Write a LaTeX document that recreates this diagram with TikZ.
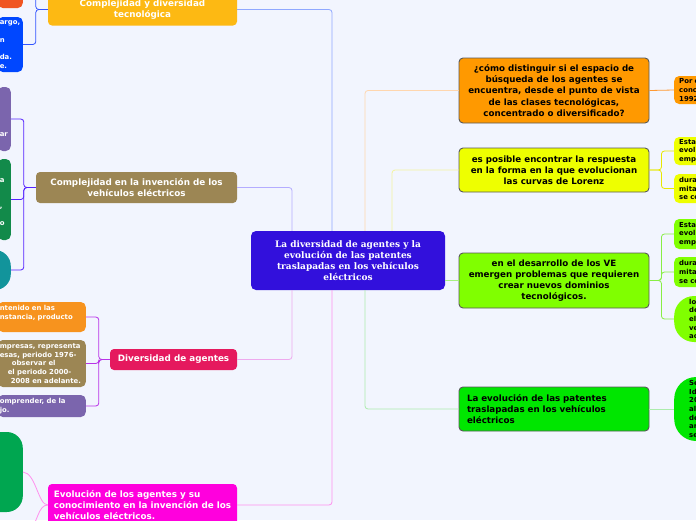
\documentclass[tikz,border=0pt]{standalone}
\usepackage{fontspec}
\setmainfont{DejaVu Sans}
\newfontfamily\titlefont{DejaVu Serif}

\definecolor{bgpage}{HTML}{F2F5FE}
\definecolor{centralcol}{HTML}{3210DC}
\definecolor{ambercol}{HTML}{FDB913}
\definecolor{khakicol}{HTML}{9C8654}
\definecolor{crimsoncol}{HTML}{E5195E}
\definecolor{magentacol}{HTML}{FF00DD}
\definecolor{orangecol}{HTML}{FF9900}
\definecolor{lemoncol}{HTML}{EEFF00}
\definecolor{limecol}{HTML}{80FF00}
\definecolor{greencol}{HTML}{00E600}
\definecolor{redcol}{HTML}{F05522}
\definecolor{bluecol}{HTML}{0047FF}
\definecolor{violetcol}{HTML}{7B65AD}
\definecolor{forestcol}{HTML}{128A4A}
\definecolor{tealcol}{HTML}{12949B}
\definecolor{leafgreen}{HTML}{00A650}
\definecolor{tangerine}{HTML}{F7931E}
% connector colours
\definecolor{lnkcdt}{HTML}{8FA8FF}
\definecolor{lnkcinv}{HTML}{B4ACFF}
\definecolor{lnkdiv}{HTML}{EEAAEE}
\definecolor{lnkevo}{HTML}{FF90EE}
\definecolor{lnkq1}{HTML}{FFD6AE}
\definecolor{lnkq2}{HTML}{F4F4A0}
\definecolor{lnkq3}{HTML}{A8F080}
\definecolor{lnkq4}{HTML}{ACECAC}
\definecolor{brkblue}{HTML}{3355FF}
\definecolor{brkviolet}{HTML}{5522FF}
\definecolor{brkmagenta}{HTML}{B833E8}
\definecolor{brkorange}{HTML}{FF9933}
\definecolor{brkyellow}{HTML}{E8E800}
\definecolor{brklime}{HTML}{88EE44}

\tikzset{
  topic/.style={fill=#1, rounded corners=4pt, text=white, align=center, inner sep=0pt,
    font=\bfseries\fontsize{8.8}{11}\selectfont},
  ask/.style={fill=#1, draw=black!65, line width=0.9pt, rounded corners=4pt, text=black,
    align=center, inner sep=0pt, font=\bfseries\fontsize{8.7}{11.1}\selectfont},
  leaf/.style={fill=#1, rounded corners=5pt, text=white, align=left, inner xsep=2pt,
    inner ysep=0pt, font=\bfseries\fontsize{6.9}{8.7}\selectfont},
  rleaf/.style={leaf=#1, text=black, anchor=west, inner xsep=4pt, text width=60pt,
    minimum width=70pt},
  link/.style={draw=#1, line width=0.8pt, rounded corners=3pt},
}

\begin{document}
\begin{tikzpicture}[x=1pt,y=-1pt]
  \useasboundingbox (0,0) rectangle (696,520);
  \clip (0,0) rectangle (696,520);
  \fill[bgpage] (0,0) rectangle (696,520);

  % centre
  \node[fill=centralcol, rounded corners=5pt, text=white, align=center, inner sep=0pt,
    minimum width=194pt, minimum height=59pt,
    font=\titlefont\bfseries\fontsize{9}{10.9}\selectfont] (cen) at (348,260.5)
    {La diversidad de agentes y la\\evolución de las patentes\\traslapadas en los vehículos\\eléctricos};

  % left topics
  \node[topic=ambercol, minimum width=189pt, minimum height=32pt] (cdt) at (142.5,9.5)
    {Complejidad y diversidad\\tecnológica};
  \node[topic=khakicol, minimum width=201pt, minimum height=31pt] (cinv) at (136.5,187.5)
    {Complejidad en la invención de los\\vehículos eléctricos};
  \node[topic=crimsoncol, minimum width=127pt, minimum height=21pt] (div) at (173.5,359.5)
    {Diversidad de agentes};
  \node[topic=magentacol, minimum width=189pt, minimum height=42pt, align=left] (evo) at (142.5,505)
    {Evolución de los agentes y su\\conocimiento en la invención de los\\vehículos eléctricos.};

  % right topics
  \node[ask=orangecol, minimum width=190pt, minimum height=65pt] (q1) at (554,90.5)
    {¿cómo distinguir si el espacio de\\búsqueda de los agentes se\\encuentra, desde el punto de vista\\de las clases tecnológicas,\\concentrado o diversificado?};
  \node[ask=lemoncol, minimum width=190pt, minimum height=44pt] (q2) at (554,170)
    {es posible encontrar la respuesta\\en la forma en la que evolucionan\\las curvas de Lorenz};
  \node[ask=limecol, minimum width=190pt, minimum height=55pt] (q3) at (554,280.5)
    {en el desarrollo de los VE\\emergen problemas que requieren\\crear nuevos dominios\\tecnológicos.};
  \node[ask=greencol, minimum width=190pt, minimum height=44pt, align=left,
    text width=174pt] (q4) at (554,409)
    {La evolución de las patentes\\traslapadas en los vehículos\\eléctricos};

  % left leaves
  \node[leaf=redcol, anchor=east, text width=21pt, minimum height=24pt] (red) at (23,-4)
    {\mbox{}\\l.};
  \node[leaf=bluecol, anchor=east, text width=21pt, minimum height=55pt] (blu) at (23,44.5)
    {argo,\\\mbox{}\\n\\\mbox{}\\da.\\e.};
  \node[leaf=violetcol, anchor=east, text width=9pt, minimum height=64pt] (vio) at (11,119)
    {\mbox{}\\\mbox{}\\\mbox{}\\\mbox{}\\ar};
  \node[leaf=forestcol, anchor=east, text width=9pt, minimum height=81pt] (frs) at (11,199.5)
    {\mbox{}\\a\\\mbox{}\\\mbox{}\\,\\\mbox{}\\o};
  \node[leaf=tealcol, anchor=east, rounded corners=16pt, minimum width=50pt,
    minimum height=40pt] (tea) at (11,270) {};
  \node[leaf=tangerine, anchor=east, text width=84pt, minimum height=30pt] (dv1) at (86,317)
    {ntenido en las\\nstancia, producto\\\mbox{}};
  \node[leaf=khakicol, anchor=east, text width=84pt, minimum height=47pt] (dv2) at (86,363.5)
    {mpresas, representa\\esas, periodo 1976-\\\hspace*{12pt}observar el\\\hspace*{8pt}el periodo 2000-\\\hspace*{11pt}2008 en adelante.};
  \node[leaf=violetcol, anchor=east, text width=84pt, minimum height=22pt] (dv3) at (86,406)
    {omprender, de la\\jo.};
  \node[leaf=leafgreen, anchor=east, rounded corners=16pt, minimum width=70pt,
    minimum height=80pt] (lgr) at (23,472) {};
  \coordinate (evonext) at (30,530);

  % right leaves
  \node[rleaf=orangecol, minimum height=28pt] (o1) at (674,90) {Por e\\conc\\1992};
  \node[rleaf=lemoncol, minimum height=28pt] (y1) at (674,151) {Esta\\evol\\empr};
  \node[rleaf=lemoncol, minimum height=29pt] (y2) at (674,188.5) {dura\\mita\\se co};
  \node[rleaf=limecol, minimum height=30pt] (l1) at (674,234) {Esta\\evol\\empr};
  \node[rleaf=limecol, minimum height=30pt] (l2) at (674,272) {dura\\mita\\se co};
  \node[rleaf=limecol, minimum height=46pt, rounded corners=20pt, inner xsep=15pt]
    (l3) at (674,319) {lo\\de\\el\\ve\\ac};
  \node[rleaf=greencol, minimum height=64pt, rounded corners=22pt,
    inner xsep=15pt] (g1) at (674,409) {Se\\Id\\20\\al\\de\\ar\\se};

  % centre connectors
  \draw[link=lnkcdt] ([xshift=-16pt]cen.north) |- (cdt.east);
  \draw[link=lnkcinv] ([xshift=-56pt]cen.north) |- (cinv.east);
  \draw[link=lnkdiv] ([xshift=-56pt]cen.south) |- (div.east);
  \draw[link=lnkevo] ([xshift=-16pt]cen.south) |- (evo.east);
  \draw[link=lnkq1] ([xshift=17pt]cen.north) |- (q1.west);
  \draw[link=lnkq2] ([xshift=44pt]cen.north) |- (q2.west);
  \draw[link=lnkq3] (cen.east |- q3.west) -- (q3.west);
  \draw[link=lnkq4] ([xshift=17pt]cen.south) |- (q4.west);

  % left brackets
  \draw[link=brkblue] (cdt.west) -- ++(-12,0) |- (red.east);
  \draw[link=brkblue] (cdt.west) -- ++(-12,0) |- (blu.east);
  \draw[link=brkviolet] (cinv.west) -- ++(-12,0) |- (vio.east);
  \draw[link=brkviolet] (cinv.west) -- ++(-12,0) |- (frs.east);
  \draw[link=brkviolet] (cinv.west) -- ++(-12,0) |- (tea.east);
  \draw[link=brkmagenta] (div.west) -- ++(-11,0) |- (dv1.east);
  \draw[link=brkmagenta] (div.west) -- ++(-11,0) |- (dv2.east);
  \draw[link=brkmagenta] (div.west) -- ++(-11,0) |- (dv3.east);
  \draw[draw=lnkevo, line width=0.8pt] (evo.west) .. controls (38,505) and (36,473) .. (lgr.east);
  \draw[draw=lnkevo, line width=0.8pt] (evo.west) .. controls (38,505) and (38,522) .. (evonext);

  % right brackets
  \draw[link=brkorange] (q1.east) -- (o1.west);
  \draw[link=brkyellow] (q2.east) -- ++(12,0) |- (y1.west);
  \draw[link=brkyellow] (q2.east) -- ++(12,0) |- (y2.west);
  \draw[link=brklime] (q3.east) -- ++(12,0) |- (l1.west);
  \draw[link=brklime] (q3.east) -- ++(12,0) |- (l2.west);
  \draw[link=brklime] (q3.east) -- ++(12,0) |- (l3.west);
  \draw[link=lnkq4] (q4.east) -- (g1.west);
\end{tikzpicture}
\end{document}
